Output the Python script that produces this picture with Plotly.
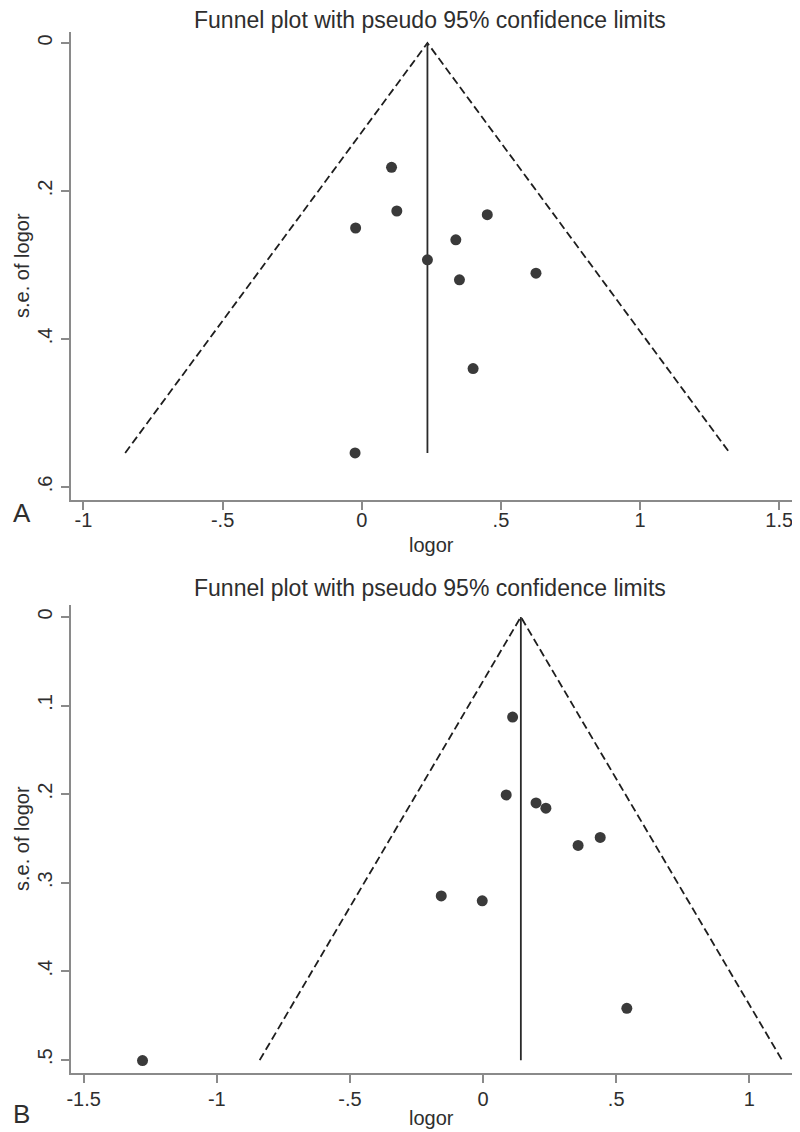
import plotly.graph_objects as go

# ---------------- data ----------------
# Panel A
a_logor = [0.107, 0.126, -0.022, 0.451, 0.338, 0.236, 0.351, 0.626, 0.40, -0.024]
a_se = [0.168, 0.227, 0.250, 0.232, 0.266, 0.293, 0.320, 0.311, 0.44, 0.554]
a_pooled = 0.236
a_funnel_x = [-0.850, 0.236, 1.322]
a_funnel_se = [0.554, 0.0, 0.554]
a_xticks = [-1, -0.5, 0, 0.5, 1, 1.5]
a_xticktext = ["-1", "-.5", "0", ".5", "1", "1.5"]
a_yticks = [0, 0.2, 0.4, 0.6]
a_yticktext = ["0", ".2", ".4", ".6"]

# Panel B
b_logor = [0.111, 0.087, 0.199, 0.236, 0.357, 0.440, -0.157, -0.003, 0.540, -1.279]
b_se = [0.113, 0.201, 0.210, 0.216, 0.258, 0.249, 0.315, 0.3205, 0.442, 0.501]
b_pooled = 0.142
b_funnel_x = [-0.839, 0.142, 1.123]
b_funnel_se = [0.5005, 0.0, 0.5005]
b_xticks = [-1.5, -1, -0.5, 0, 0.5, 1]
b_xticktext = ["-1.5", "-1", "-.5", "0", ".5", "1"]
b_yticks = [0, 0.1, 0.2, 0.3, 0.4, 0.5]
b_yticktext = ["0", ".1", ".2", ".3", ".4", ".5"]

title_text = "Funnel plot with pseudo 95% confidence limits"

# ---------------- styles ----------------
FONT = "Liberation Sans, Arial, sans-serif"
TXT = "#2e2e2e"
AXC = "#8a8a8a"
DOT = "#3a3a3a"
OFF = 8                 # default page margin around the plot div
W, H = 800 - OFF, 1132 - OFF


def px(x):
    return (x - OFF) / W


def py(y):
    return 1 - (y - OFF) / H


fig = go.Figure()


def add_panel(xa, ya, logor, se, pooled, fx, fse):
    fig.add_trace(go.Scatter(x=fx, y=fse, mode="lines", xaxis=xa, yaxis=ya,
                             line=dict(color="#1e1e1e", width=1.8, dash="8px,4px"),
                             hoverinfo="skip", showlegend=False))
    fig.add_trace(go.Scatter(x=[pooled, pooled], y=[0, max(fse)], mode="lines",
                             xaxis=xa, yaxis=ya,
                             line=dict(color="#2a2a2a", width=1.8),
                             hoverinfo="skip", showlegend=False))
    fig.add_trace(go.Scatter(x=logor, y=se, mode="markers", xaxis=xa, yaxis=ya,
                             marker=dict(color=DOT, size=11, line=dict(width=0)),
                             showlegend=False))


add_panel("x", "y", a_logor, a_se, a_pooled, a_funnel_x, a_funnel_se)
add_panel("x2", "y2", b_logor, b_se, b_pooled, b_funnel_x, b_funnel_se)

axis_common = dict(showgrid=False, zeroline=False, showline=True, linecolor=AXC,
                   linewidth=1.5, ticks="outside", ticklen=8, tickwidth=1.5,
                   tickcolor=AXC, tickfont=dict(family=FONT, size=20, color=TXT),
                   mirror=False)

# pixel geometry (page pixels) -> domains
a_left, a_right, a_top, a_bottom = 67, 793, 32, 500
b_left, b_right, b_top, b_bottom = 67, 795, 605, 1073

fig.update_layout(
    width=W, height=H, margin=dict(l=0, r=0, t=0, b=0),
    paper_bgcolor="white", plot_bgcolor="white", showlegend=False,
    xaxis=dict(domain=[px(a_left), px(a_right)], range=[-1.046, 1.546],
               tickvals=a_xticks, ticktext=a_xticktext, anchor="y",
               ticklabelstandoff=-7, **axis_common),
    yaxis=dict(domain=[py(a_bottom), py(a_top)], range=[0.6176, -0.0149],
               tickvals=a_yticks, ticktext=a_yticktext, anchor="x",
               tickangle=-90, ticklabelstandoff=1, **axis_common),
    xaxis2=dict(domain=[px(b_left), px(b_right)], range=[-1.549, 1.168],
                tickvals=b_xticks, ticktext=b_xticktext, anchor="y2",
                ticklabelstandoff=-1, **axis_common),
    yaxis2=dict(domain=[py(b_bottom), py(b_top)], range=[0.515, -0.0135],
                tickvals=b_yticks, ticktext=b_yticktext, anchor="x2",
                tickangle=-90, ticklabelstandoff=1, **axis_common),
)


def ann(text, x, y, size, angle=0):
    fig.add_annotation(text=text, x=px(x), y=py(y), xref="paper", yref="paper",
                       showarrow=False, textangle=angle, xanchor="center",
                       yanchor="middle", borderpad=0,
                       font=dict(family=FONT, size=size, color=TXT))


# titles
ann(title_text, 429, 20, 23)
ann(title_text, 429, 588, 23)
# axis titles
ann("logor", 430, 545, 20)
ann("logor", 430, 1118, 20)
ann("s.e. of logor", 18, 265, 20, angle=-90)
ann("s.e. of logor", 18, 838, 20, angle=-90)
# panel labels
ann("A", 18, 513, 26)
ann("B", 18, 1114, 26)

fig.write_html("out.html")
